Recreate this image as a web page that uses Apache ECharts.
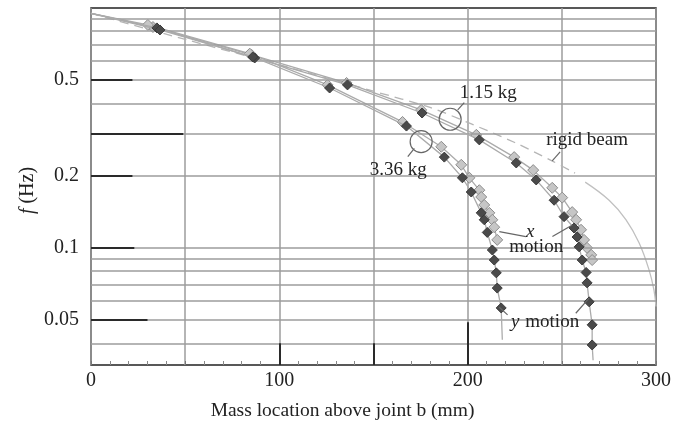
<!DOCTYPE html>
<html><head><meta charset="utf-8">
<script src="https://cdn.jsdelivr.net/npm/echarts@6/dist/echarts.min.js"></script>
<style>html,body{margin:0;padding:0;background:#fff}#c{width:674px;height:429px}</style>
</head><body><div id="c"></div>
<script>
// ---------- data ----------
const xTickLabels = [0, 100, 200, 300];
const yTickLabels = [0.05, 0.1, 0.2, 0.5];
const yGridValues = [0.04, 0.05, 0.06, 0.07, 0.08, 0.09, 0.1, 0.2, 0.3, 0.4, 0.5, 0.6, 0.7, 0.8, 0.9];
const origin = [0, 0.95];

// 1.15 kg, x motion (light diamonds)
const x115 = [[32.9,0.833],[85.3,0.637],[135.7,0.487],[175.3,0.376],[204.6,0.296],[224.7,0.239],[234.8,0.211],[244.9,0.178],[250.2,0.162],[255.5,0.141],[257.6,0.131],[260.2,0.119],[261.8,0.108],[263.4,0.100],[265.6,0.0935],[266.1,0.089]];
// 1.15 kg, y motion (dark diamonds)
const y115 = [[35.0,0.826],[86.9,0.619],[136.2,0.478],[175.8,0.365],[206.2,0.282],[225.8,0.226],[236.4,0.192],[245.9,0.158],[251.2,0.135],[256.5,0.121],[258.1,0.111],[259.2,0.101],[260.8,0.089],[262.9,0.079],[263.4,0.0715],[264.5,0.0596],[266.1,0.0478],[266.1,0.0394]];
const y115Tail = [266.6, 0.034];
// 3.36 kg, x motion (light diamonds)
const x336 = [[30.2,0.85],[84.3,0.645],[125.6,0.478],[165.4,0.335],[186.0,0.264],[196.6,0.222],[200.9,0.196],[206.2,0.174],[207.2,0.163],[208.8,0.151],[211.5,0.140],[213.1,0.131],[214.1,0.122],[215.7,0.108]];
// 3.36 kg, y motion (dark diamonds)
const y336 = [[36.6,0.81],[85.9,0.625],[126.7,0.464],[167.5,0.322],[187.6,0.239],[197.2,0.196],[201.9,0.171],[207.2,0.140],[208.8,0.131],[210.4,0.116],[213.1,0.098],[214.1,0.089],[215.2,0.0787],[215.7,0.068],[217.8,0.0562]];
const y336Tail = [218.4, 0.0414];
// rigid beam
const rigidDashed = [[0,0.95],[50,0.74],[100,0.58],[150,0.45],[180,0.385],[201,0.331],[225,0.275],[245,0.23],[257,0.205]];
const rigidSolid = [[262.4,0.188],[275.1,0.158],[284.1,0.131],[291,0.105],[296.3,0.081],[298.9,0.0668],[300,0.057]];
// dark strokes printed on the chart frame
const darkSegments = [[[0,0.5],[22,0.5]],[[0,0.3],[49,0.3]],[[0,0.2],[22,0.2]],[[0,0.1],[23,0.1]],[[0,0.05],[30,0.05]],[[100,0.0325],[100,0.04]],[[150,0.0325],[150,0.04]],[[200,0.0325],[200,0.049]]];

// ---------- chart ----------
const FONT = 'Liberation Serif';
const chart = echarts.init(document.getElementById('c'), null, {renderer:'canvas'});
const LIGHT = {color:'#c6c6c6', borderColor:'#8c8c8c', borderWidth:1};
const DARK = {color:'#4a4a4a', borderColor:'#3a3a3a', borderWidth:1};
const lineLS = {color:'#ababab', width:1.3};

function withEnds(pts, tail){
  const d = [{value: origin, symbol:'none'}].concat(pts.map(p=>({value:p})));
  if (tail) d.push({value: tail, symbol:'none'});
  return d;
}

chart.setOption({
  animation:false,
  grid:{left:91, right:17, top:8, bottom:64, show:true, borderColor:'#222', borderWidth:1.5, backgroundColor:'transparent'},
  xAxis:{type:'value', min:0, max:300, interval:50,
    axisLine:{show:false},
    axisTick:{show:true, inside:true, length:4, lineStyle:{color:'#777'}},
    minorTick:{show:true, splitNumber:5, length:4, lineStyle:{color:'#888'}},
    splitLine:{show:true, lineStyle:{color:'#9c9c9c', width:1.5}},
    axisLabel:{color:'#222', fontFamily:FONT, fontSize:20, margin:6,
      formatter:v=> xTickLabels.includes(v) ? String(v) : ''},
    name:'Mass location above joint b (mm)', nameLocation:'middle', nameGap:36,
    nameTextStyle:{color:'#222', fontFamily:FONT, fontSize:19.5, padding:[0,62,0,0]}
  },
  yAxis:{type:'log', logBase:10, min:0.0325, max:1,
    axisLine:{show:false}, axisTick:{show:false}, axisLabel:{show:false}, splitLine:{show:false},
    name:'{i|f} (Hz)', nameLocation:'middle', nameGap:53,
    nameTextStyle:{color:'#222', fontFamily:FONT, fontSize:20, padding:[0,8,0,0],
      rich:{i:{fontStyle:'italic', fontFamily:FONT, fontSize:20, color:'#222'}}}
  },
  series:[
    {type:'line', z:1, data:[origin], showSymbol:false, lineStyle:{width:0}, silent:true,
     markLine:{silent:true, symbol:'none', animation:false,
       lineStyle:{color:'#9c9c9c', width:1.5, type:'solid'},
       label:{show:false},
       data: yGridValues.map(v=>({yAxis:v,
         label:{show: yTickLabels.includes(v), position:'start', distance:12, formatter:String(v),
                color:'#222', fontFamily:FONT, fontSize:20}}))
     }},
    {type:'line', z:2, data:[origin], showSymbol:false, lineStyle:{width:0}, silent:true,
     markLine:{silent:true, symbol:'none', animation:false, label:{show:false},
       lineStyle:{color:'#2a2a2a', width:2, type:'solid'},
       data: darkSegments.map(s=>[{coord:s[0]},{coord:s[1]}])
     }},
    {name:'rigid dashed', type:'line', z:3, data:rigidDashed, showSymbol:false, smooth:0.3,
     lineStyle:{color:'#b5b5b5', width:1.3, type:[9,6]}},
    {name:'rigid solid', type:'line', z:3, data:rigidSolid, showSymbol:false, smooth:0.4,
     lineStyle:{color:'#c0c0c0', width:1.3}},
    {name:'1.15 x', type:'line', z:4, data:withEnds(x115), symbol:'diamond', symbolSize:11, itemStyle:LIGHT, lineStyle:lineLS},
    {name:'3.36 x', type:'line', z:4, data:withEnds(x336), symbol:'diamond', symbolSize:11, itemStyle:LIGHT, lineStyle:lineLS},
    {name:'1.15 y', type:'line', z:5, data:withEnds(y115, y115Tail), symbol:'diamond', symbolSize:10, itemStyle:DARK, lineStyle:lineLS},
    {name:'3.36 y', type:'line', z:5, data:withEnds(y336, y336Tail), symbol:'diamond', symbolSize:10, itemStyle:DARK, lineStyle:lineLS}
  ]
});

// ---------- annotations (anchored in data coordinates) ----------
const P = (x,y)=>chart.convertToPixel({gridIndex:0},[x,y]);
const TXT = (x,y,t,italic)=>{const p=P(x,y);return {type:'text', z:50, style:{x:p[0], y:p[1], text:t, fill:'#222',
  font:(italic?'italic ':'')+'19px "'+FONT+'"', align:'center', verticalAlign:'middle'}};};
const SEG = (a,b)=>{const p=P(a[0],a[1]), q=P(b[0],b[1]);return {type:'line', z:50, shape:{x1:p[0],y1:p[1],x2:q[0],y2:q[1]}, style:{stroke:'#666', lineWidth:1.2}};};
const CIR = (x,y)=>{const p=P(x,y);return {type:'circle', z:50, shape:{cx:p[0],cy:p[1],r:11}, style:{stroke:'#666', lineWidth:1.2, fill:'none'}};};

chart.setOption({graphic:[
  CIR(190.7,0.3437), SEG([194.7,0.3758],[198.2,0.4031]), TXT(210.9,0.4425,'1.15 kg'),
  CIR(175.3,0.2773), SEG([171.7,0.2602],[168.2,0.2401]), TXT(163.1,0.2113,'3.36 kg'),
  TXT(263.4,0.2818,'rigid beam'), SEG([249.1,0.2512],[244.9,0.2304]),
  TXT(233.2,0.1169,'x',true), TXT(236.4,0.1013,'motion'),
  SEG([216.8,0.1169],[230.9,0.1115]), SEG([245.0,0.1115],[255.6,0.1247]),
  TXT(225.3,0.0493,'y',true), TXT(244.9,0.0493,'motion'),
  SEG([221.2,0.0526],[216.8,0.0566]), SEG([257.4,0.0534],[264.5,0.0617])
]});
</script></body></html>
